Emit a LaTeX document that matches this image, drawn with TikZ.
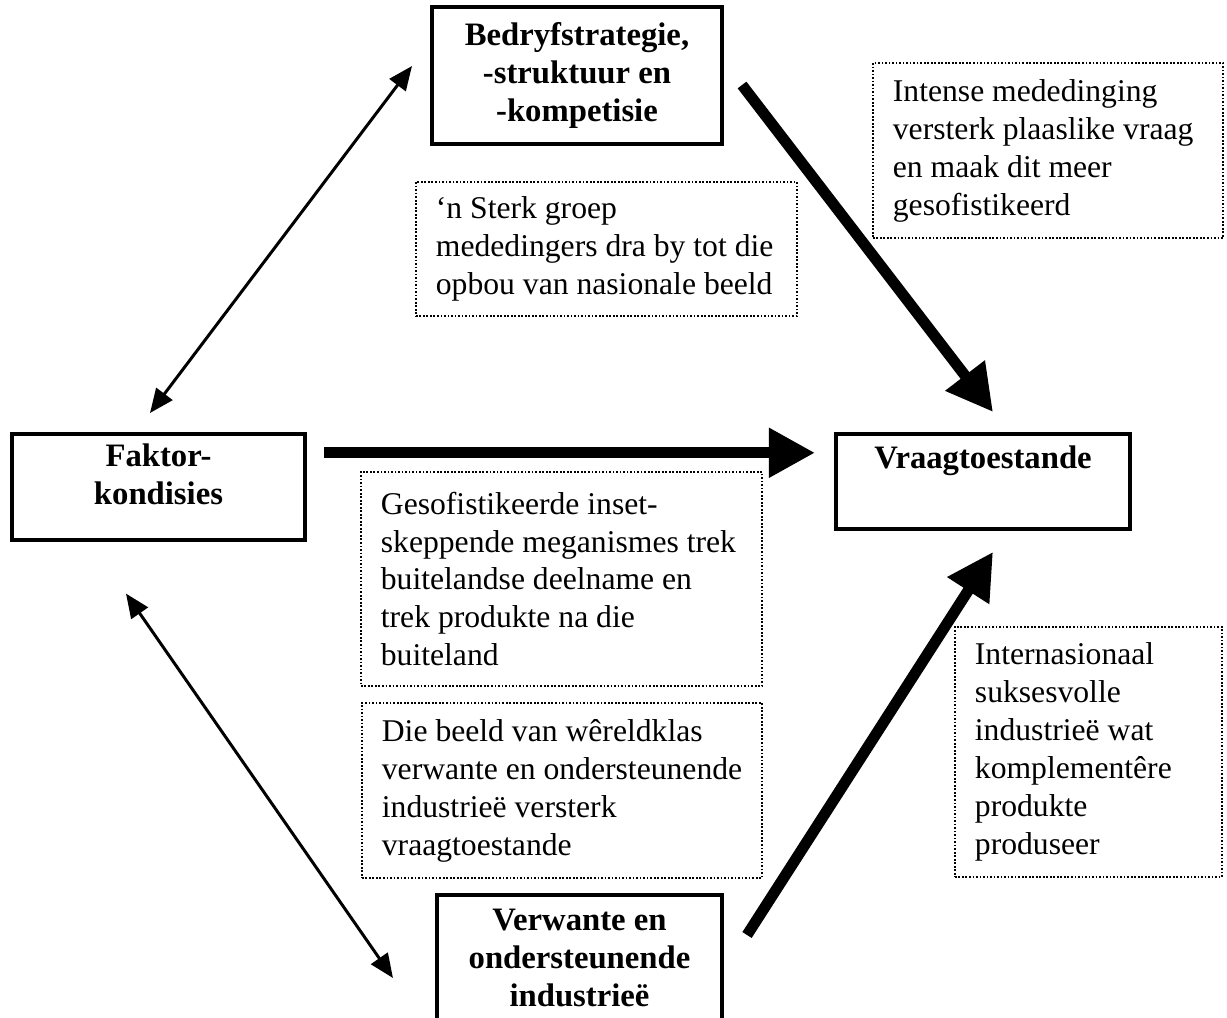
\documentclass[tikz,border=0pt]{standalone}
\usepackage{fontspec}
\setmainfont{Liberation Serif}
\usetikzlibrary{arrows.meta}

\begin{document}
\begin{tikzpicture}[x=0.01cm, y=-0.01cm,
    mainbox/.style={draw, line width=1.1pt, align=center, inner sep=0pt,
        font=\fontsize{9.3}{10.8}\selectfont\bfseries},
    notebox/.style={draw, line width=0.5pt, dash pattern=on 0.5pt off 0.5pt,
        align=flush left, inner sep=0pt, execute at begin node={\leftskip=0.2cm},
        font=\fontsize{9}{10.8}\selectfont},
    thinarrow/.style={line width=0.85pt,
        {Triangle[length=0.24cm,width=0.2cm]}-{Triangle[length=0.24cm,width=0.2cm]}},
    bigarrow/.style={line width=0.11cm, -{Triangle[length=0.46cm,width=0.47cm]}}]
    \useasboundingbox (0,0) rectangle (1227,1018);

    % Diamond corners
    \node[mainbox, minimum width=2.9cm, minimum height=1.37cm] (bedryf) at (577,75.5)
        {Bedryfstrategie,\\-struktuur en\\-kompetisie};
    \node[mainbox, anchor=north, minimum width=2.93cm, inner ysep=0.1cm,
        text depth=0.25cm] (faktor) at (158.5,432)
        {Faktor-\\kondisies};
    \node[mainbox, anchor=north, minimum width=2.94cm, inner ysep=0.1cm,
        text height=0.25cm, text depth=0.5cm] (vraag) at (983,432) {Vraagtoestande};
    \node[mainbox, minimum width=2.85cm, minimum height=1.26cm] (verwante) at (579.5,958)
        {Verwante en\\ondersteunende\\industrieë};

    % Notes
    \node[notebox, text width=3.81cm, minimum height=1.34cm] (sterk) at (606.5,249)
        {‘n Sterk groep\\mededingers dra by tot die\\opbou van nasionale beeld};
    \node[notebox, text width=3.5cm, minimum height=1.75cm] (intense) at (1048,150.5)
        {Intense mededinging\\versterk plaaslike vraag\\en maak dit meer\\gesofistikeerd};
    \node[notebox, text width=4.01cm, minimum height=2.14cm] (gesof) at (561.5,579)
        {Gesofistikeerde inset-\\skeppende meganismes trek\\buitelandse deelname en\\trek produkte na die\\buiteland};
    \node[notebox, text width=4cm, minimum height=1.75cm] (beeld) at (562,790.5)
        {Die beeld van wêreldklas\\verwante en ondersteunende\\industrieë versterk\\vraagtoestande};
    \node[notebox, text width=2.67cm, minimum height=2.5cm] (internas) at (1088.5,752)
        {Internasionaal\\suksesvolle\\industrieë wat\\komplementêre\\produkte\\produseer};

    % Two-way links
    \draw[thinarrow] ([shift={(-8.5,-19)}]faktor.north) -- ([shift={(-18,-9.5)}]bedryf.west);
    \draw[thinarrow] ([shift={(-32.5,52)}]faktor.south) -- ([shift={(-42,20)}]verwante.west);

    % Links into demand conditions
    \draw[bigarrow] ([shift={(18,9.5)}]bedryf.east) -- ([shift={(10,-20)}]vraag.north);
    \draw[bigarrow, shorten >=0.19cm] ([shift={(17,-34)}]faktor.east) coordinate (fstart)
        -- (fstart -| vraag.west);
    \draw[bigarrow] ([shift={(23,-23)}]verwante.east) -- ([shift={(10,21)}]vraag.south);
\end{tikzpicture}
\end{document}
